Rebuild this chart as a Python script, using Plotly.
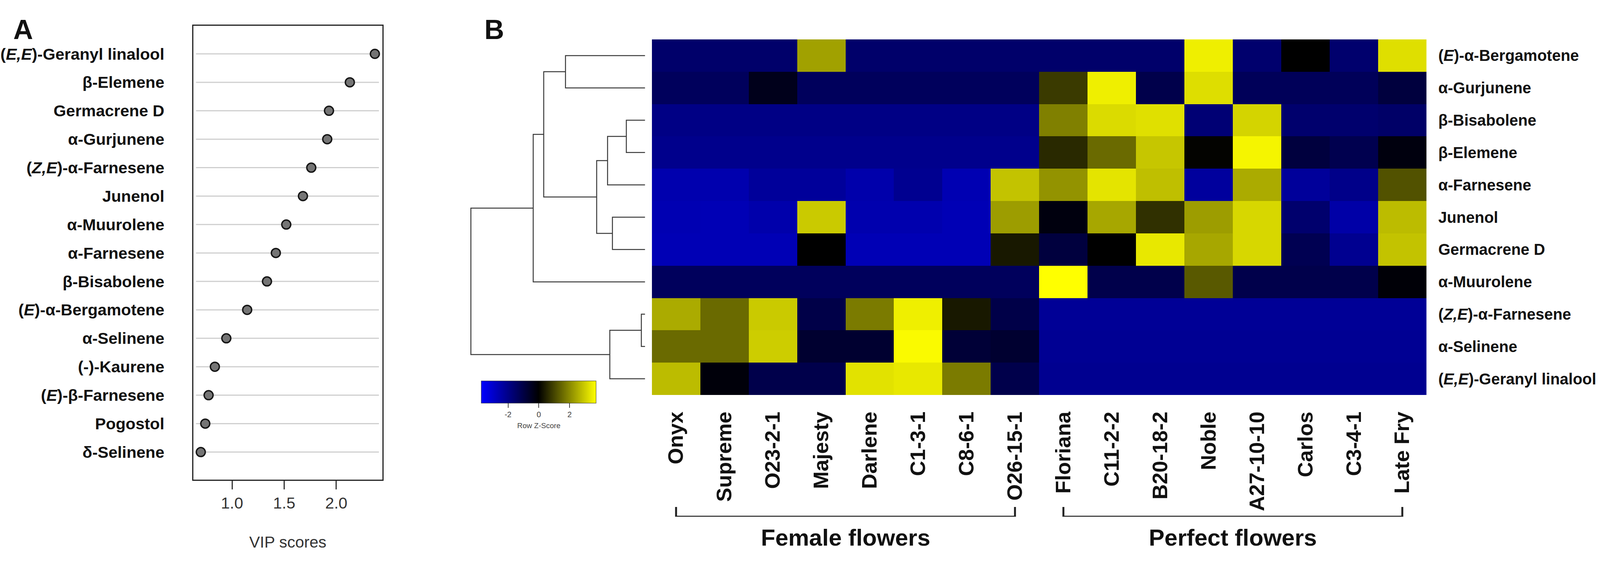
import plotly.graph_objects as go

# reference is 4261 wide, but the browser window only gives 4096, so x positions are kept as fractions
REF_W = 4261
W = 4096
H = 1440
XS = W / REF_W

# panel A
vip_names = ["(<i>E,E</i>)-Geranyl linalool", "β-Elemene", "Germacrene D", "α-Gurjunene",
             "(<i>Z,E</i>)-α-Farnesene", "Junenol", "α-Muurolene", "α-Farnesene", "β-Bisabolene",
             "(<i>E</i>)-α-Bergamotene", "α-Selinene", "(-)-Kaurene", "(<i>E</i>)-β-Farnesene",
             "Pogostol", "δ-Selinene"]
vip_scores = [2.37, 2.13, 1.93, 1.913, 1.76, 1.68, 1.52, 1.42, 1.335, 1.145, 0.945, 0.835, 0.775, 0.743, 0.70]
vip_ticks = [1.0, 1.5, 2.0]

# panel B
row_names = ["(<i>E</i>)-α-Bergamotene", "α-Gurjunene", "β-Bisabolene", "β-Elemene", "α-Farnesene",
             "Junenol", "Germacrene D", "α-Muurolene", "(<i>Z,E</i>)-α-Farnesene", "α-Selinene",
             "(<i>E,E</i>)-Geranyl linalool"]
col_names = ["Onyx", "Supreme", "O23-2-1", "Majesty", "Darlene", "C1-3-1", "C8-6-1", "O26-15-1",
             "Floriana", "C11-2-2", "B20-18-2", "Noble", "A27-10-10", "Carlos", "C3-4-1", "Late Fry"]

z_bergamotene = [-1.55, -1.55, -1.55, 2.35, -1.55, -1.55, -1.55, -1.55, -1.55, -1.55, -1.55, 3.5, -1.6, 0.0, -1.6, 3.26]
z_gurjunene = [-1.35, -1.35, -0.4, -1.35, -1.35, -1.35, -1.35, -1.35, 0.85, 3.5, -1.1, 3.25, -1.3, -1.3, -1.3, -0.9]
z_bisabolene = [-1.95, -1.95, -1.95, -1.95, -1.95, -1.95, -1.95, -1.95, 1.87, 3.2, 3.28, -1.7, 3.1, -1.6, -1.6, -1.5]
z_elemene = [-2.05, -2.05, -2.05, -2.05, -2.05, -2.05, -2.05, -2.05, 0.6, 1.55, 2.9, 0.05, 3.58, -0.9, -1.15, -0.2]
z_farnesene = [-2.55, -2.55, -2.25, -2.25, -2.5, -2.1, -2.6, 2.85, 2.15, 3.33, 2.8, -2.3, 2.5, -2.25, -2.0, 1.2]
z_junenol = [-2.6, -2.65, -2.5, 2.95, -2.55, -2.55, -2.65, 2.3, -0.2, 2.45, 0.7, 2.3, 3.15, -1.6, -2.45, 2.75]
z_germacrene = [-2.65, -2.65, -2.65, 0.0, -2.65, -2.65, -2.65, 0.35, -0.9, 0.0, 3.4, 2.45, 3.15, -1.2, -2.1, 2.85]
z_muurolene = [-1.35, -1.35, -1.35, -1.35, -1.35, -1.35, -1.35, -1.35, 3.73, -1.1, -1.1, 1.3, -1.1, -1.1, -1.1, -0.1]
z_zefarnesene = [2.5, 1.55, 2.95, -1.05, 1.8, 3.5, 0.35, -1.05, -2.2, -2.2, -2.2, -2.2, -2.2, -2.2, -2.2, -2.2]
z_selinene = [1.55, 1.55, 3.0, -0.7, -0.7, 3.65, -0.8, -0.7, -2.15, -2.15, -2.15, -2.15, -2.15, -2.15, -2.15, -2.15]
z_geranyl = [2.75, -0.15, -1.1, -1.1, 3.3, 3.4, 1.8, -1.1, -2.1, -2.1, -2.1, -2.1, -2.1, -2.1, -2.1, -2.1]
z_all = [z_bergamotene, z_gurjunene, z_bisabolene, z_elemene, z_farnesene, z_junenol,
         z_germacrene, z_muurolene, z_zefarnesene, z_selinene, z_geranyl]
z_ticks = [-2, 0, 2]
z_tick_text = ["-2", "0", "2"]

# dendrogram, same way R's hclust keeps it: negative = row, positive = earlier merge
merge_left = [-9, -3, 2, -6, 3, -1, 6, 7, 1, 8]
merge_right = [-10, -4, -5, -7, 4, -2, 5, -8, -11, 9]
merge_height = [0.10, 0.50, 1.00, 0.87, 1.29, 2.12, 2.70, 2.98, 0.94, 4.64]

groups = ["Female flowers", "Perfect flowers"]
group_first = [0, 8]
group_last = [7, 15]

ARIAL = "Liberation Sans"


def dom_x(a, b):
    return [a / REF_W, b / REF_W]


def dom_y(top, bottom):
    return [1 - bottom / H, 1 - top / H]


def dendro_lines():
    xs, ys = [], []
    node_pos = {}
    node_h = {}

    def child(c):
        if c < 0:
            return -c - 1, 0
        return node_pos[c], node_h[c]

    for i in range(len(merge_height)):
        yl, hl = child(merge_left[i])
        yr, hr = child(merge_right[i])
        h = merge_height[i]
        xs += [hl, h, h, hr, None]
        ys += [yl, yl, yr, yr, None]
        node_pos[i + 1] = (yl + yr) / 2
        node_h[i + 1] = h
    return xs, ys


fig = go.Figure()

# grey guide lines of panel A
for name in vip_names:
    fig.add_trace(go.Scatter(x=[0.654, 2.409], y=[name, name], mode="lines",
                             line=dict(color="#cfcfcf", width=3),
                             xaxis="x", yaxis="y", showlegend=False))
fig.add_trace(go.Scatter(x=vip_scores, y=vip_names, mode="markers",
                         marker=dict(size=23, color="#757575", line=dict(color="#151515", width=3.5)),
                         xaxis="x", yaxis="y", showlegend=False))

dx, dy = dendro_lines()
fig.add_trace(go.Scatter(x=dx, y=dy, mode="lines", line=dict(color="#3a3a3a", width=2.5),
                         xaxis="x2", yaxis="y2", showlegend=False))

fig.add_trace(go.Heatmap(z=z_all, x=col_names, y=row_names, zmin=-3.73, zmax=3.73,
                         colorscale=[[0, "#0000ff"], [0.5, "#000000"], [1, "#ffff00"]],
                         xaxis="x3", yaxis="y3",
                         colorbar=dict(orientation="h", lenmode="pixels", len=306 * XS,
                                       thicknessmode="pixels", thickness=57,
                                       x=1282 / REF_W, xanchor="left", y=1 - 976 / H, yanchor="top",
                                       xpad=0, ypad=0, outlinecolor="#333", outlinewidth=1,
                                       tickvals=z_ticks, ticktext=z_tick_text, ticks="outside",
                                       ticklen=12, tickwidth=2, tickcolor="#444",
                                       tickfont=dict(family=ARIAL, size=20, color="#444"))))

fig.update_layout(
    width=W, height=H, margin=dict(l=0, r=0, t=0, b=0, autoexpand=False),
    paper_bgcolor="white", plot_bgcolor="white",
    xaxis=dict(domain=dom_x(515, 1018), range=[0.629, 2.441], tickvals=vip_ticks,
               tickformat=".1f", ticks="outside", ticklen=22, tickwidth=2.5, tickcolor="#333",
               showline=True, mirror=True, linecolor="#222", linewidth=3, showgrid=False, zeroline=False,
               automargin=False, tickfont=dict(family=ARIAL, size=41, color="#333")),
    yaxis=dict(domain=dom_y(66, 1229), type="category", categoryorder="array", categoryarray=vip_names,
               range=[14.97, -0.988], ticks="outside", ticklen=63, tickcolor="rgba(0,0,0,0)",
               showline=True, mirror=True, linecolor="#222", linewidth=3, showgrid=False, automargin=False,
               tickfont=dict(family=ARIAL, size=41.5, color="#111", weight="bold")),
    xaxis2=dict(domain=dom_x(1240, 1718), range=[4.78, 0], visible=False, anchor="y2"),
    yaxis2=dict(domain=dom_y(101, 1012), range=[10.5, -0.5], visible=False, anchor="x2"),
    xaxis3=dict(domain=dom_x(1736, 3799), type="category", anchor="y3", tickangle=-90, ticks="outside",
                ticklen=20, tickcolor="rgba(0,0,0,0)", showgrid=False, zeroline=False, automargin=False,
                tickfont=dict(family=ARIAL, size=54, color="#111", weight="bold")),
    yaxis3=dict(domain=dom_y(101, 1012), type="category", side="right", anchor="x3",
                categoryorder="array", categoryarray=row_names, range=[10.5, -0.5],
                ticks="outside", ticklen=21, tickcolor="rgba(0,0,0,0)", showgrid=False, zeroline=False,
                automargin=False, tickfont=dict(family=ARIAL, size=40, color="#111", weight="bold")),
)

# group brackets and captions
for name, first, last in zip(groups, group_first, group_last):
    fig.add_trace(go.Scatter(x=[col_names[first], col_names[first], col_names[last], col_names[last]],
                             y=[0, 1, 1, 0], mode="lines", line=dict(color="#222", width=5),
                             xaxis="x3", yaxis="y4", showlegend=False))
    fig.add_annotation(text=name, xref="x3", yref="paper",
                       x=(first + last) / 2, y=1 - 1377 / H, showarrow=False,
                       xanchor="center", yanchor="middle",
                       font=dict(family=ARIAL, size=60, color="#111", weight="bold"))
fig.update_layout(yaxis4=dict(domain=dom_y(1299, 1324), range=[1, 0], visible=False, anchor="x3"))

fig.add_annotation(text="VIP scores", xref="paper", yref="paper", x=767 / REF_W, y=1 - 1414 / H,
                   xanchor="center", showarrow=False, font=dict(family=ARIAL, size=41, color="#333"))
fig.add_annotation(text="Row Z-Score", xref="paper", yref="paper", x=1435 / REF_W, y=1 - 1103 / H,
                   xanchor="center", showarrow=False, font=dict(family=ARIAL, size=19, color="#444"))
fig.add_annotation(text="A", xref="paper", yref="paper", x=62 / REF_W, y=1 - 35 / H, xanchor="center",
                   showarrow=False, font=dict(family=ARIAL, size=70, color="#111", weight="bold"))
fig.add_annotation(text="B", xref="paper", yref="paper", x=1316 / REF_W, y=1 - 35 / H, xanchor="center",
                   showarrow=False, font=dict(family=ARIAL, size=70, color="#111", weight="bold"))

fig.write_html("out.html", config={"displayModeBar": False},
               post_script="document.body.style.margin='0';")
